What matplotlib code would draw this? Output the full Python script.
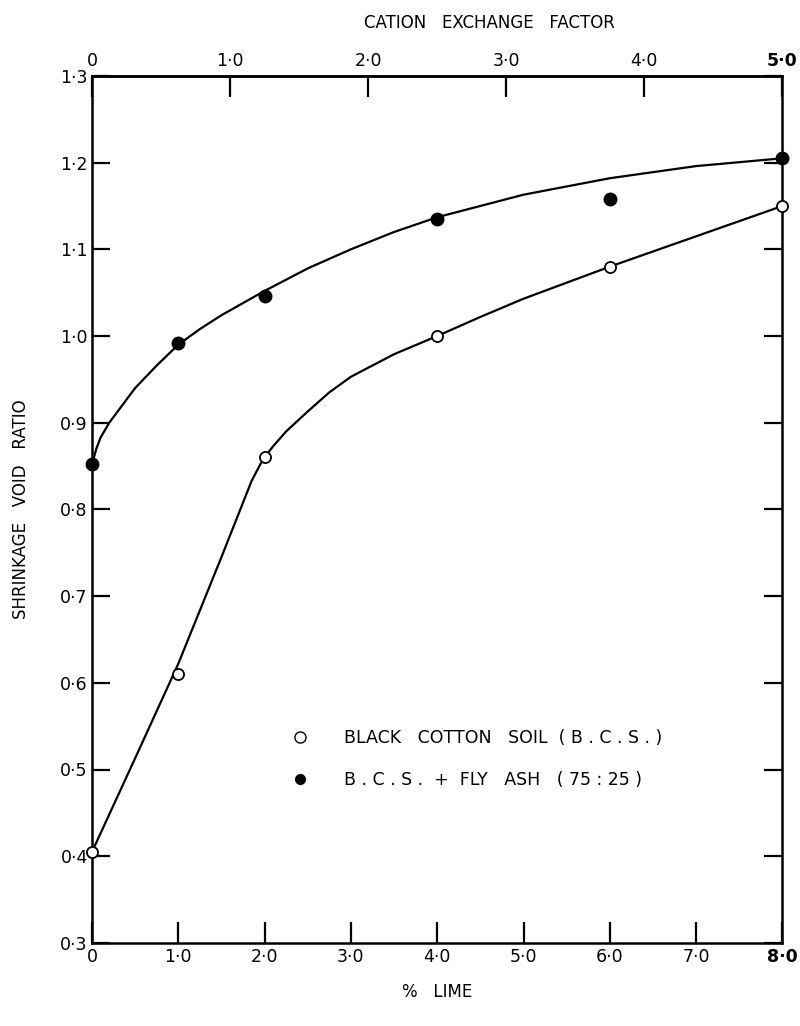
import matplotlib
matplotlib.use("Agg")
import matplotlib.pyplot as plt
from matplotlib.lines import Line2D

# measured points
lime = [0.0, 1.0, 2.0, 4.0, 6.0, 8.0]
bcs_void = [0.405, 0.61, 0.86, 1.0, 1.08, 1.15]
flyash_void = [0.852, 0.992, 1.046, 1.135, 1.158, 1.205]

# hand-drawn curves
bcs_curve_x = [0.0, 0.5, 1.0, 1.5, 1.85, 1.95, 2.0, 2.1, 2.25, 2.5, 2.75, 3.0, 3.5, 4.0,
               4.5, 5.0, 6.0, 7.0, 8.0]
bcs_curve_y = [0.405, 0.513, 0.622, 0.745, 0.833, 0.852, 0.86, 0.873, 0.89, 0.913, 0.935,
               0.953, 0.979, 1.0, 1.022, 1.043, 1.08, 1.115, 1.15]
fa_curve_x = [0.0, 0.05, 0.1, 0.2, 0.35, 0.5, 0.75, 1.0, 1.25, 1.5, 2.0, 2.5, 3.0, 3.5,
              4.0, 5.0, 6.0, 7.0, 8.0]
fa_curve_y = [0.852, 0.87, 0.883, 0.9, 0.92, 0.94, 0.966, 0.99, 1.008, 1.024, 1.052, 1.078,
              1.1, 1.12, 1.137, 1.163, 1.182, 1.196, 1.205]

x_ticks = [0, 1, 2, 3, 4, 5, 6, 7, 8]
x_labels = ["0", "1·0", "2·0", "3·0", "4·0", "5·0", "6·0", "7·0", "8·0"]
y_ticks = [0.3, 0.4, 0.5, 0.6, 0.7, 0.8, 0.9, 1.0, 1.1, 1.2, 1.3]
y_labels = ["0·3", "0·4", "0·5", "0·6", "0·7", "0·8", "0·9", "1·0", "1·1", "1·2", "1·3"]
cef_ticks = [0, 1, 2, 3, 4, 5]
cef_labels = ["0", "1·0", "2·0", "3·0", "4·0", "5·0"]

fig = plt.figure(figsize=(8, 10.26), dpi=100)
ax = fig.add_axes([0.115, 0.081, 0.863, 0.845])

ax.plot(bcs_curve_x, bcs_curve_y, color='black', lw=1.6, clip_on=False,
        solid_joinstyle='round')
ax.plot(fa_curve_x, fa_curve_y, color='black', lw=1.6, clip_on=False,
        solid_joinstyle='round')
ax.plot(lime, bcs_void, 'o', ms=8, mfc='white', mec='black', mew=1.3, clip_on=False, zorder=3)
ax.plot(lime, flyash_void, 'o', ms=9, mfc='black', mec='black', clip_on=False, zorder=3)

ax.set_xlim(0, 8)
ax.set_ylim(0.3, 1.3)
for s in ax.spines.values():
    s.set_linewidth(1.8)

ax.set_xticks(x_ticks)
ax.set_xticklabels(x_labels)
ax.set_yticks(y_ticks)
ax.set_yticklabels(y_labels)
ax.tick_params(axis='x', direction='in', length=15, width=1.6, labelsize=12.5, pad=4)
ax.tick_params(axis='y', direction='in', length=13, width=1.6, labelsize=12.5, pad=3,
               right=True)
ax.get_xticklabels()[-1].set_fontweight('bold')

top = ax.secondary_xaxis('top', functions=(lambda v: v * 5 / 8, lambda v: v * 8 / 5))
top.set_xticks(cef_ticks)
top.set_xticklabels(cef_labels)
top.tick_params(direction='in', length=15, width=1.6, labelsize=12.5, pad=4)
top.get_xticklabels()[-1].set_fontweight('bold')
top.spines['top'].set_linewidth(1.8)

fig.text(0.612, 0.978, "CATION   EXCHANGE   FACTOR", ha='center', va='center', fontsize=12)
ax.set_xlabel("%   LIME", fontsize=12, labelpad=12)
ax.set_ylabel("SHRINKAGE   VOID   RATIO", fontsize=12, labelpad=22)

handles = [
    Line2D([], [], ls='none', marker='o', ms=8, mfc='white', mec='black', mew=1.0),
    Line2D([], [], ls='none', marker='o', ms=7, mfc='black', mec='black'),
]
ax.legend(handles, ["BLACK   COTTON   SOIL  ( B . C . S . )",
                    "B . C . S .  +  FLY   ASH   ( 75 : 25 )"],
          loc='upper left', bbox_to_anchor=(0.345, 0.305), bbox_transform=fig.transFigure,
          frameon=False, fontsize=12.5, handlelength=1.0, handletextpad=2.0, labelspacing=1.4)

fig.savefig("out.png", dpi=100)
